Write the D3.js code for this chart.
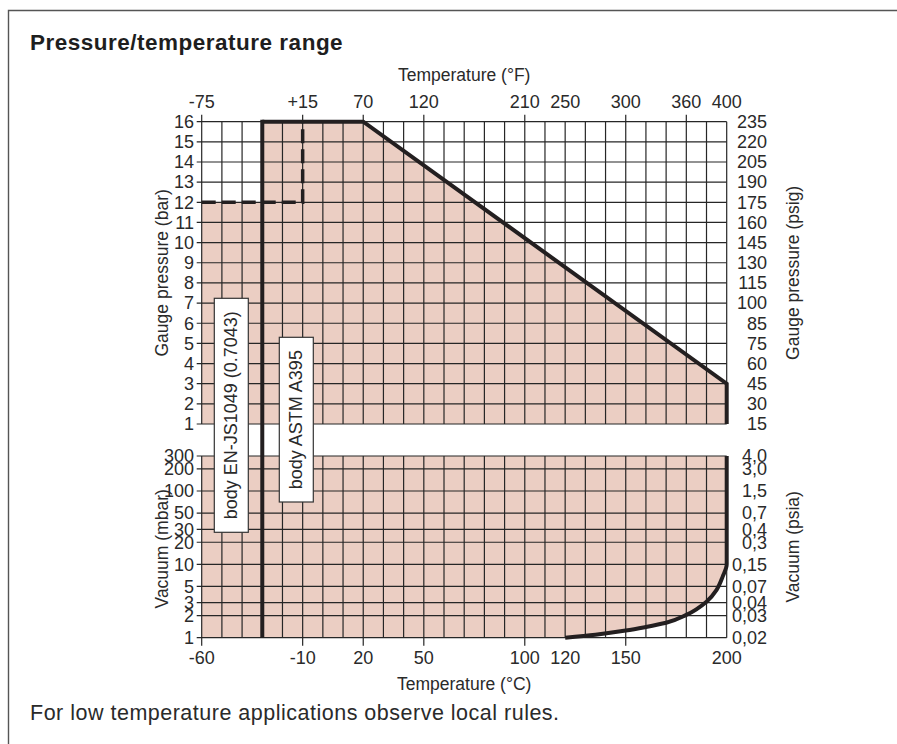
<!DOCTYPE html>
<html>
<head>
<meta charset="utf-8">
<script src="https://cdn.jsdelivr.net/npm/d3@7"></script>
<style>
  html, body { margin: 0; padding: 0; background: #fff; overflow: hidden; }
  svg { display: block; }
  text { font-family: "Liberation Sans", Arial, Helvetica, sans-serif; fill: #2a2a2a; }
</style>
</head>
<body>
<svg id="chart" width="897" height="744"></svg>
<script>
// ---------------- DATA ----------------
const tempDomain = [-60, 200];                       // °C
const celsiusTicks = [-60, -10, 20, 50, 100, 120, 150, 200];
const celsiusTickMarks = [-60, -10, 20, 50, 100, 150];
const fahrenheitPos = [-60, -10, 20, 50, 100, 120, 150, 180, 200];   // in °C
const fahrenheitLabels = ["-75", "+15", "70", "120", "210", "250", "300", "360", "400"];
const fahrenheitTickMarks = [-60, -10, 20, 50, 100, 150, 180];
const gridTemps = [-60,-50,-40,-30,-20,-10,0,10,20,30,40,50,60,70,80,90,100,110,120,130,140,150,160,170,180,190,200];

const barTicks = [1,2,3,4,5,6,7,8,9,10,11,12,13,14,15,16];
const psigLabels = ["15","30","45","60","75","85","100","115","130","145","160","175","190","205","220","235"];

const mbarTicks = [1, 2, 3, 5, 10, 20, 30, 50, 100, 200, 300];
const psiaLabels = ["0,02","0,03","0,04","0,07","0,15","0,3","0,4","0,7","1,5","3,0","4,0"];

// pressure limit (°C, bar)
const pressureLimitT = [-30, 20, 200, 200];
const pressureLimitP = [16, 16, 3, 1];
// allowed pressure area (°C, bar)
const pressureAreaT = [-60, -60, -30, -30, 20, 200, 200];
const pressureAreaP = [1, 12, 12, 16, 16, 3, 1];
// dashed limit for ASTM body (°C, bar)
const dashedT = [-60, -10, -10];
const dashedP = [12, 12, 16];
// minimum temperature line
const minTemp = -30;
// vacuum limit curve (°C, mbar)
const vacuumT = [200, 200, 198, 195, 190, 180, 170, 160, 150, 135, 120];
const vacuumM = [300, 10, 6.8, 4.5, 3.1, 2.05, 1.6, 1.4, 1.25, 1.1, 1];

const bodyLabels = ["body EN-JS1049 (0.7043)", "body ASTM A395"];

// ---------------- LAYOUT ----------------
const svg = d3.select("#chart");
const L = 201.7, R = 726.7;
const x = d3.scaleLinear().domain(tempDomain).range([L, R]);
const yP = d3.scaleLinear().domain([1, 16]).range([424, 121.7]);
const yV = d3.scaleLog().domain([1, 300]).range([637.7, 456]);

const ink = "#231f20";
const fillCol = "#ebcec3";
const gridCol = "#262626";
const FS = 18;

// frame
svg.append("path").attr("d", "M8.5,744 L8.5,10.5 L897,10.5")
  .attr("fill", "none").attr("stroke", "#555").attr("stroke-width", 1.4);

// title
svg.append("text").attr("x", 30).attr("y", 50)
  .attr("font-size", 22.5).attr("font-weight", "bold").attr("letter-spacing", 0.5)
  .style("fill", "#1e1e1e")
  .text("Pressure/temperature range");

// ---------- fills ----------
const upperPts = pressureAreaT.map((t, i) => [x(t), yP(pressureAreaP[i])]);
svg.append("path").attr("d", d3.line()(upperPts) + "Z").attr("fill", fillCol);

const curvePts = vacuumT.map((t, i) => [x(t), yV(vacuumM[i])]);
const curveGen = d3.line().curve(d3.curveMonotoneY);
const curveD = curveGen(curvePts);
const lowerD = "M" + x(-60) + "," + yV(300) + "L" + curveD.slice(1) + "L" + x(-60) + "," + yV(1) + "Z";
svg.append("path").attr("d", lowerD).attr("fill", fillCol);

// ---------- grid ----------
const grid = svg.append("g").attr("stroke", gridCol).attr("stroke-width", 1.2);
gridTemps.forEach(t => {
  grid.append("line").attr("x1", x(t)).attr("x2", x(t)).attr("y1", yP(16)).attr("y2", yP(1));
  grid.append("line").attr("x1", x(t)).attr("x2", x(t)).attr("y1", yV(300)).attr("y2", yV(1));
});
barTicks.forEach(p => {
  grid.append("line").attr("x1", L - 5).attr("x2", R).attr("y1", yP(p)).attr("y2", yP(p));
});
mbarTicks.forEach(m => {
  grid.append("line").attr("x1", L - 5).attr("x2", R).attr("y1", yV(m)).attr("y2", yV(m));
});
fahrenheitTickMarks.forEach(t => {
  grid.append("line").attr("x1", x(t)).attr("x2", x(t)).attr("y1", yP(16) - 7).attr("y2", yP(16));
});
celsiusTickMarks.forEach(t => {
  grid.append("line").attr("x1", x(t)).attr("x2", x(t)).attr("y1", yV(1)).attr("y2", yV(1) + 8);
});

// ---------- limit lines ----------
svg.append("path")
  .attr("d", d3.line()(pressureLimitT.map((t, i) => [x(t), yP(pressureLimitP[i])])))
  .attr("fill", "none").attr("stroke", ink).attr("stroke-width", 4).attr("stroke-linejoin", "miter");
svg.append("line").attr("x1", x(minTemp)).attr("x2", x(minTemp))
  .attr("y1", yP(16) - 2).attr("y2", yV(1))
  .attr("stroke", ink).attr("stroke-width", 4);
svg.append("path")
  .attr("d", d3.line()(dashedT.map((t, i) => [x(t), yP(dashedP[i])])))
  .attr("fill", "none").attr("stroke", ink).attr("stroke-width", 3.5)
  .attr("stroke-dasharray", "14,6");
svg.append("path").attr("d", curveD)
  .attr("fill", "none").attr("stroke", ink).attr("stroke-width", 4);

// ---------- body labels ----------
const boxes = [
  {x0: 214.3, x1: 248.3, y0: 298.3, y1: 532.3},
  {x0: 279.3, x1: 313.3, y0: 337.3, y1: 502}
];
boxes.forEach((b, i) => {
  svg.append("rect").attr("x", b.x0).attr("y", b.y0)
    .attr("width", b.x1 - b.x0).attr("height", b.y1 - b.y0)
    .attr("fill", "#fff").attr("stroke", "#333").attr("stroke-width", 1.2);
  const cx = (b.x0 + b.x1) / 2, cy = (b.y0 + b.y1) / 2;
  svg.append("text").attr("transform", `translate(${cx},${cy}) rotate(-90)`)
    .attr("text-anchor", "middle").attr("dominant-baseline", "central")
    .attr("font-size", 18).text(bodyLabels[i]);
});

// ---------- tick labels ----------
const lab = svg.append("g").attr("font-size", FS);
fahrenheitPos.forEach((t, i) => {
  lab.append("text").attr("x", x(t)).attr("y", 108).attr("text-anchor", "middle").text(fahrenheitLabels[i]);
});
celsiusTicks.forEach(t => {
  lab.append("text").attr("x", x(t)).attr("y", 664).attr("text-anchor", "middle").text(String(t));
});
barTicks.forEach((p, i) => {
  lab.append("text").attr("x", 194).attr("y", yP(p)).attr("dy", "0.35em")
    .attr("text-anchor", "end").text(String(p));
  lab.append("text").attr("x", 767).attr("y", yP(p)).attr("dy", "0.35em")
    .attr("text-anchor", "end").text(psigLabels[i]);
});
mbarTicks.forEach((m, i) => {
  lab.append("text").attr("x", 194).attr("y", yV(m)).attr("dy", "0.35em")
    .attr("text-anchor", "end").text(String(m));
  lab.append("text").attr("x", 767).attr("y", yV(m)).attr("dy", "0.35em")
    .attr("text-anchor", "end").text(psiaLabels[i]);
});

// ---------- axis titles ----------
const midX = (L + R) / 2;
const tl = svg.append("g").attr("font-size", 17.5);
tl.append("text").attr("x", midX).attr("y", 81).attr("text-anchor", "middle").text("Temperature (°F)");
tl.append("text").attr("x", midX).attr("y", 690).attr("text-anchor", "middle").text("Temperature (°C)");
const vt = (tx, ty, s) => tl.append("text")
  .attr("transform", `translate(${tx},${ty}) rotate(-90)`)
  .attr("text-anchor", "middle").attr("dominant-baseline", "central").text(s);
vt(162, (yP(16) + yP(1)) / 2, "Gauge pressure (bar)");
vt(162, (yV(300) + yV(1)) / 2 + 2, "Vacuum (mbar)");
vt(792.7, (yP(16) + yP(1)) / 2, "Gauge pressure (psig)");
vt(792.7, (yV(300) + yV(1)) / 2, "Vacuum (psia)");

// footnote
svg.append("text").attr("x", 30).attr("y", 720).attr("font-size", 21.5).attr("letter-spacing", 0.5)
  .text("For low temperature applications observe local rules.");
</script>
</body>
</html>
